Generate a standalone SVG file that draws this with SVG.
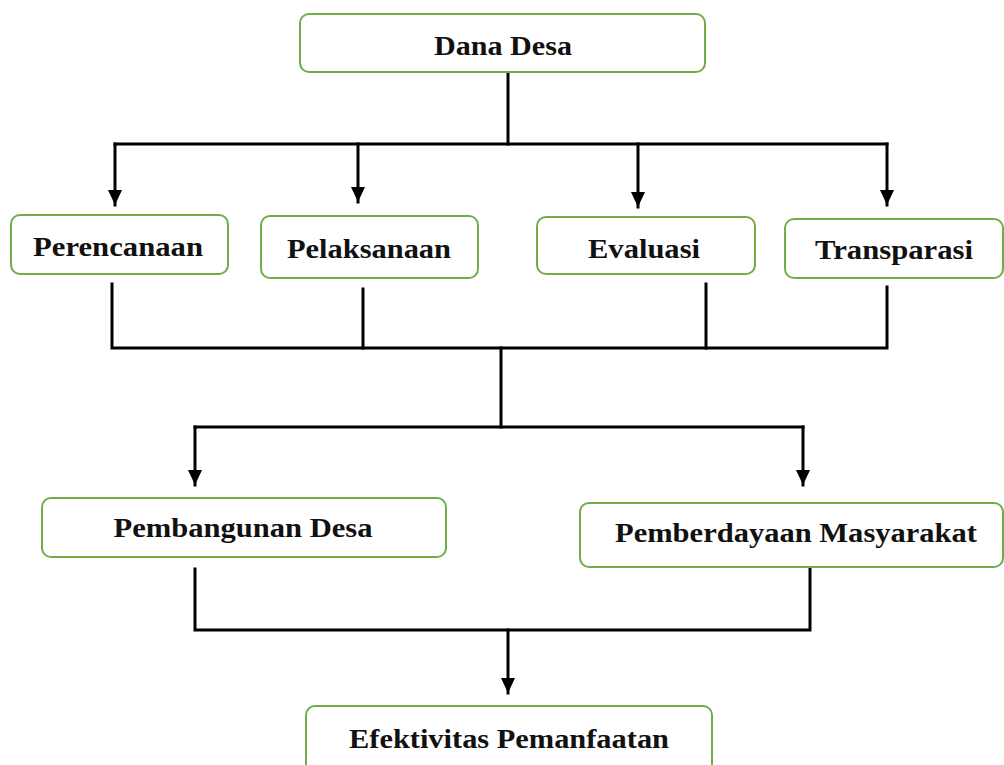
<svg xmlns="http://www.w3.org/2000/svg" width="1004" height="765" viewBox="0 0 1004 765">
<style>
.box{fill:#fff;stroke:#70AD47;stroke-width:2}
.lbl{font-family:"Liberation Serif","Times New Roman",serif;font-weight:bold;font-size:28px;fill:#111;text-anchor:middle}
.ln{fill:none;stroke:#000;stroke-width:3;stroke-linecap:square;stroke-linejoin:miter}
</style>
<defs>
<marker id="ah" markerUnits="userSpaceOnUse" markerWidth="16" markerHeight="16" viewBox="0 0 16 16" refX="15" refY="8" orient="auto">
<path d="M0,1 L15,8 L0,15 Z" fill="#000"/>
</marker>
</defs>
<rect width="1004" height="765" fill="#fff"/>
<g id="connectors">
<path class="ln" d="M508,73 L508,144"/>
<path class="ln" d="M115,144 L887,144"/>
<path class="ln" d="M115,144 L115,205" marker-end="url(#ah)"/>
<path class="ln" d="M358,144 L358,202" marker-end="url(#ah)"/>
<path class="ln" d="M638,144 L638,207" marker-end="url(#ah)"/>
<path class="ln" d="M887,144 L887,205" marker-end="url(#ah)"/>
<path class="ln" d="M112,284 L112,348 L887,348 L887,287"/>
<path class="ln" d="M363,289 L363,348"/>
<path class="ln" d="M706,284 L706,348"/>
<path class="ln" d="M501,348 L501,427"/>
<path class="ln" d="M195,427 L803,427"/>
<path class="ln" d="M195,427 L195,485" marker-end="url(#ah)"/>
<path class="ln" d="M803,427 L803,485" marker-end="url(#ah)"/>
<path class="ln" d="M195,569 L195,630 L810,630 L810,569"/>
<path class="ln" d="M508,630 L508,693" marker-end="url(#ah)"/>
</g>
<g id="n-dana-desa">
<rect class="box" x="300" y="14" width="405" height="58" rx="9"/>
<text class="lbl" x="503" y="55" textLength="138" lengthAdjust="spacingAndGlyphs">Dana Desa</text>
</g>
<g id="n-perencanaan">
<rect class="box" x="11" y="215" width="217" height="59" rx="9"/>
<text class="lbl" x="118" y="256" textLength="170" lengthAdjust="spacingAndGlyphs">Perencanaan</text>
</g>
<g id="n-pelaksanaan">
<rect class="box" x="261" y="216" width="217" height="62" rx="9"/>
<text class="lbl" x="369" y="258" textLength="164" lengthAdjust="spacingAndGlyphs">Pelaksanaan</text>
</g>
<g id="n-evaluasi">
<rect class="box" x="537" y="217" width="218" height="57" rx="9"/>
<text class="lbl" x="644" y="258" textLength="112" lengthAdjust="spacingAndGlyphs">Evaluasi</text>
</g>
<g id="n-transparasi">
<rect class="box" x="785" y="219" width="218" height="59" rx="9"/>
<text class="lbl" x="894" y="259" textLength="158" lengthAdjust="spacingAndGlyphs">Transparasi</text>
</g>
<g id="n-pembangunan">
<rect class="box" x="42" y="498" width="404" height="59" rx="9"/>
<text class="lbl" x="243" y="537" textLength="259" lengthAdjust="spacingAndGlyphs">Pembangunan Desa</text>
</g>
<g id="n-pemberdayaan">
<rect class="box" x="580" y="503" width="423" height="64" rx="9"/>
<text class="lbl" x="796" y="542" textLength="362" lengthAdjust="spacingAndGlyphs">Pemberdayaan Masyarakat</text>
</g>
<g id="n-efektivitas">
<rect class="box" x="306" y="706" width="406" height="72" rx="9"/>
<text class="lbl" x="509" y="748" textLength="320" lengthAdjust="spacingAndGlyphs">Efektivitas Pemanfaatan</text>
</g>
</svg>
